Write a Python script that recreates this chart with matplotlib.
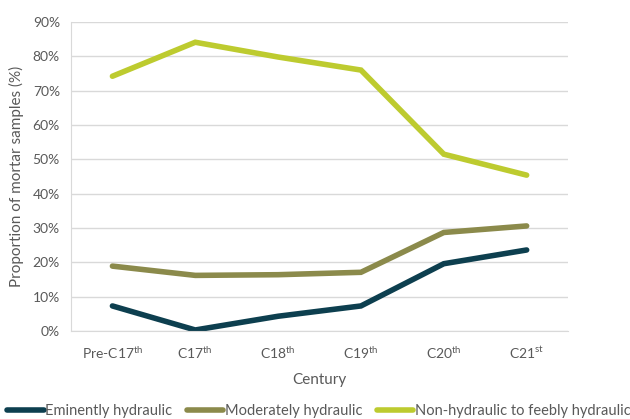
import matplotlib
matplotlib.use("Agg")
import matplotlib.pyplot as plt
from matplotlib.ticker import PercentFormatter

plt.rcParams['font.family'] = ['Lato', 'DejaVu Sans']
plt.rcParams['mathtext.fontset'] = 'custom'
plt.rcParams['mathtext.rm'] = 'Lato'

# data
centuries = ["Pre-C17$^{\\mathrm{th}}$", "C17$^{\\mathrm{th}}$", "C18$^{\\mathrm{th}}$",
             "C19$^{\\mathrm{th}}$", "C20$^{\\mathrm{th}}$", "C21$^{\\mathrm{st}}$"]
eminently = [7.3, 0.3, 4.3, 7.3, 19.6, 23.6]
moderately = [18.9, 16.2, 16.4, 17.1, 28.7, 30.6]
non_hydraulic = [74.2, 84.1, 79.8, 76.0, 51.5, 45.4]

series_names = ["Eminently hydraulic", "Moderately hydraulic", "Non-hydraulic to feebly hydraulic"]
colors = ["#0D3F4F", "#8B8A4B", "#BDCB2F"]
txt = "#595959"

fig = plt.figure(figsize=(6.3, 4.19), dpi=100)
ax = fig.add_axes([0.1127, 0.21, 0.789, 0.7375])

x = range(len(centuries))
for vals, name, c in zip([eminently, moderately, non_hydraulic], series_names, colors):
    ax.plot(x, vals, color=c, lw=4, label=name, solid_capstyle='round', solid_joinstyle='miter')

ax.set_xlim(-0.5, len(centuries) - 0.5)
ax.set_ylim(0, 90)
ax.set_yticks(range(0, 91, 10))
ax.yaxis.set_major_formatter(PercentFormatter(decimals=0))
ax.set_xticks(list(x))
ax.set_xticklabels(centuries)
ax.grid(axis='y', color='#D9D9D9', lw=1)
ax.set_axisbelow(True)
for s in ['top', 'right']:
    ax.spines[s].set_visible(False)
for s in ['left', 'bottom']:
    ax.spines[s].set_color('#D9D9D9')
ax.tick_params(length=0, colors=txt, labelsize=10)
ax.tick_params(axis='x', pad=10)
ax.tick_params(axis='y', pad=8)
ax.set_xlabel("Century", color=txt, fontsize=11, labelpad=8)
ax.set_ylabel("Proportion of mortar samples (%)", color=txt, fontsize=11, labelpad=6)

leg = fig.legend(loc='center', bbox_to_anchor=(0.506, 0.018), ncol=3, frameon=False,
                 fontsize=10.5, handlelength=2.5, handletextpad=0.1, columnspacing=1.0)
for t in leg.get_texts():
    t.set_color(txt)

fig.savefig("out.png", dpi=100)
